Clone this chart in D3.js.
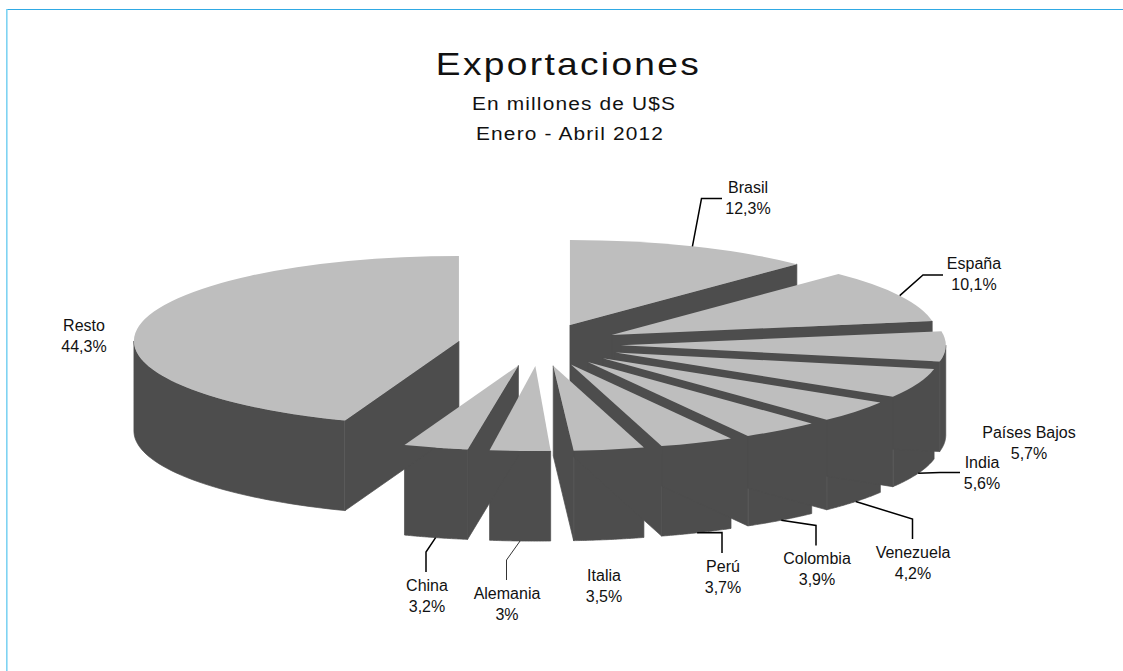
<!DOCTYPE html>
<html lang="es">
<head>
<meta charset="utf-8">
<title>Exportaciones</title>
<script src="https://cdn.jsdelivr.net/npm/d3@7/dist/d3.min.js"></script>
<style>
  html, body { margin: 0; padding: 0; background: #fff; }
  svg { display: block; }
  text { font-family: "Liberation Sans", Arial, sans-serif; fill: #111; }
</style>
</head>
<body>
<svg id="chart" width="1123" height="671"></svg>
<script>
// Export destinations, share of total in percent, clockwise from north.
// Shares are rounded and add up to 99.5; the "" entries hold the remainder and are not drawn.
const categories = ["Brasil", "España", "Países Bajos", "India", "Venezuela", "Colombia",
                    "Perú", "Italia", "", "Alemania", "", "China", "Resto"];
const shares = [12.3, 10.1, 5.7, 5.6, 4.2, 3.9, 3.7, 3.5, 0.25, 3, 0.25, 3.2, 44.3];

const titleText = "Exportaciones";
const subtitleLines = ["En millones de U$S", "Enero - Abril 2012"];

// Label placement: text centre and first baseline, plus optional leader elbow and end.
const labelLayout = {
  "Brasil":       { x: 748,  y: 193, elbow: [701.5, 198.5], end: [722, 198.5] },
  "España":       { x: 974,  y: 269, elbow: [923, 275],     end: [943, 275] },
  "Países Bajos": { x: 1029, y: 438 },
  "India":        { x: 982,  y: 468, elbow: [940, 472.5],   end: [960, 472.5] },
  "Venezuela":    { x: 913,  y: 558, elbow: [912.5, 519],   end: [912.5, 539] },
  "Colombia":     { x: 817,  y: 564, elbow: [816, 525.5],   end: [816, 545.5] },
  "Perú":         { x: 723,  y: 572, elbow: [722, 532.5],   end: [722, 553] },
  "Italia":       { x: 604,  y: 581 },
  "Alemania":     { x: 507,  y: 599, elbow: [506.5, 560],   end: [506.5, 580], thin: true },
  "China":        { x: 427,  y: 591, elbow: [426, 552],     end: [426, 572] },
  "Resto":        { x: 84,   y: 331 }
};

// Pie geometry in pixels.
const cx = 539.2, cy = 344.8, rx = 325, ry = 85, depth = 90;
const explode = 0.251;
const topColor = "#bebebe", sideColor = "#4d4d4d", edgeColor = "#7c7c7c";

const svg = d3.select("#chart");

// Frame: two rules along the top and the left.
svg.append("line").attr("x1", 6).attr("x2", 1123).attr("y1", 9.5).attr("y2", 9.5)
  .attr("stroke", "#2fa9e4").attr("stroke-width", 1);
svg.append("rect").attr("x", 6).attr("y", 9).attr("width", 1.6).attr("height", 662)
  .attr("fill", "#7fd3f2");

// Titles
svg.append("text").attr("transform", "translate(568.5,75) scale(1.16,1)")
  .attr("text-anchor", "middle").attr("font-size", 32).attr("letter-spacing", 2)
  .text(titleText);
svg.selectAll("text.sub").data(subtitleLines).join("text").attr("class", "sub")
  .attr("transform", (d, i) => `translate(${i ? 570 : 574},${110 + i * 30}) scale(1.16,1)`)
  .attr("text-anchor", "middle").attr("font-size", 18).attr("letter-spacing", 1)
  .text(d => d);

// Angles, and each wedge pulled out along its bisector.
const pie = d3.pie().sort(null).value(d => d.share);
const slices = pie(categories.map((name, i) => ({ name, share: shares[i] })))
  .filter(s => s.data.name !== "")
  .map(s => {
    const mid = (s.startAngle + s.endAngle) / 2;
    return { ...s, mid,
      ox: cx + rx * explode * Math.sin(mid),
      oy: cy - ry * explode * Math.cos(mid) };
  });

const onRim = (s, a) => [s.ox + rx * Math.sin(a), s.oy - ry * Math.cos(a)];
const polyLine = d3.line();

// Lower half of the rim, where the outer wall faces the viewer.
function wallPoints(s) {
  const a0 = Math.max(s.startAngle, Math.PI / 2);
  const a1 = Math.min(s.endAngle, 3 * Math.PI / 2);
  if (a1 <= a0) return null;
  const rim = d3.range(0, 41).map(i => onRim(s, a0 + (a1 - a0) * i / 40));
  return rim.concat(rim.slice().reverse().map(([x, y]) => [x, y + depth]));
}

const sides = svg.append("g");

// Outer walls
sides.selectAll("path.wall").data(slices).join("path").attr("class", "wall")
  .attr("fill", sideColor).attr("stroke", sideColor).attr("stroke-width", 0.7)
  .attr("d", s => { const p = wallPoints(s); return p ? polyLine(p) + "Z" : null; });

// Light corner where a wall meets a cut face that can be seen.
const closesCircle = s => s.endAngle >= 2 * Math.PI - 1e-6;
sides.selectAll("line.corner")
  .data(slices.filter(s => (s.endAngle > Math.PI / 2 && s.endAngle <= Math.PI) || closesCircle(s)))
  .join("line").attr("class", "corner")
  .each(function (s) {
    const [x, y] = onRim(s, closesCircle(s) ? s.startAngle : s.endAngle);
    d3.select(this).attr("x1", x).attr("x2", x).attr("y1", y).attr("y2", y + depth);
  })
  .attr("stroke", edgeColor).attr("stroke-width", 0.9);

// Cut faces, painted over the walls and under every top.
const facePoints = (s, a) => {
  const [x, y] = onRim(s, a);
  return [[s.ox, s.oy], [x, y], [x, y + depth], [s.ox, s.oy + depth]];
};
sides.selectAll("path.face")
  .data(slices.flatMap(s => [{ s, a: s.startAngle }, { s, a: s.endAngle }]
    .filter(f => f.a === f.s.startAngle ? Math.sin(f.a) < 0 : Math.sin(f.a) > 0)))
  .join("path").attr("class", "face")
  .attr("fill", sideColor).attr("stroke", sideColor).attr("stroke-width", 0.7)
  .attr("d", f => polyLine(facePoints(f.s, f.a)) + "Z");

// Tops: a circular arc squashed into the ellipse of the tilted disc.
const topArc = d3.arc().innerRadius(0).outerRadius(rx);
svg.append("g").selectAll("path").data(slices).join("path")
  .attr("transform", s => `translate(${s.ox},${s.oy}) scale(1,${ry / rx})`)
  .attr("fill", topColor)
  .attr("d", s => topArc(s));

// Leader lines start on the rim at the wedge's bisector, on the wall foot for front wedges.
const labelled = slices.map(s => ({ s, l: labelLayout[s.data.name] }));
svg.append("g").selectAll("path").data(labelled.filter(d => d.l.elbow)).join("path")
  .attr("fill", "none").attr("stroke", "#000")
  .attr("stroke-width", d => d.l.thin ? 0.8 : 1.5)
  .attr("d", ({ s, l }) => {
    const [x, y] = onRim(s, s.mid);
    const start = [x, Math.cos(s.mid) < 0 ? y + depth : y];
    return polyLine([start, l.elbow, l.end]);
  });

// Category and share, with the decimal comma.
const fmt = d3.formatLocale({ decimal: ",", thousands: ".", grouping: [3], currency: ["", "%"] }).format(".1~f");
const labels = svg.append("g").selectAll("text").data(labelled).join("text")
  .attr("text-anchor", "middle").attr("font-size", 16);
labels.append("tspan").attr("x", d => d.l.x).attr("y", d => d.l.y).text(d => d.s.data.name);
labels.append("tspan").attr("x", d => d.l.x).attr("y", d => d.l.y + 21).text(d => fmt(d.s.value) + "%");
</script>
</body>
</html>
